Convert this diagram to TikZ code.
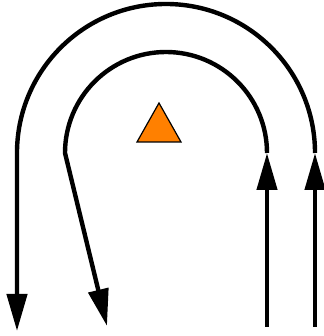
\documentclass[tikz,border=0pt]{standalone}
\usetikzlibrary{arrows.meta}
\definecolor{ink}{HTML}{000000}
\definecolor{marker}{HTML}{FF8000}
\newcommand{\OuterR}{149}
\newcommand{\InnerR}{101}

\begin{document}
\begin{tikzpicture}[x=1pt, y=1pt, line width=4.4pt, ink,
  lane/.style={-{Triangle[length=37pt, width=20pt]}}]
\useasboundingbox (0,0) rectangle (323,336);

% --- Turning points and loose ends ---------------------------------------------
\coordinate (outerIn)    at (315,9);
\coordinate (outerTurn)  at (315,183);
\coordinate (outerOut)   at (17,5);
\coordinate (innerIn)    at (267,9);
\coordinate (innerTurn)  at (267,183);
\coordinate (innerOut)   at (107,10);

% --- Outer lane: up, over the top, down -----------------------------------------
\draw[lane] (outerIn) -- (outerTurn);
\draw[lane] (outerTurn) arc[start angle=0, end angle=180, radius=\OuterR] -- (outerOut);

% --- Inner lane: up, over the top, out at a slant ---------------------------------
\draw[lane] (innerIn) -- (innerTurn);
\draw[lane] (innerTurn) arc[start angle=0, end angle=180, radius=\InnerR] -- (innerOut);

% --- The marker in the middle ------------------------------------------------------
\filldraw[fill=marker, draw=ink, line width=1.2pt] (137,194) -- (159,233) -- (181,194) -- cycle;

\end{tikzpicture}
\end{document}
